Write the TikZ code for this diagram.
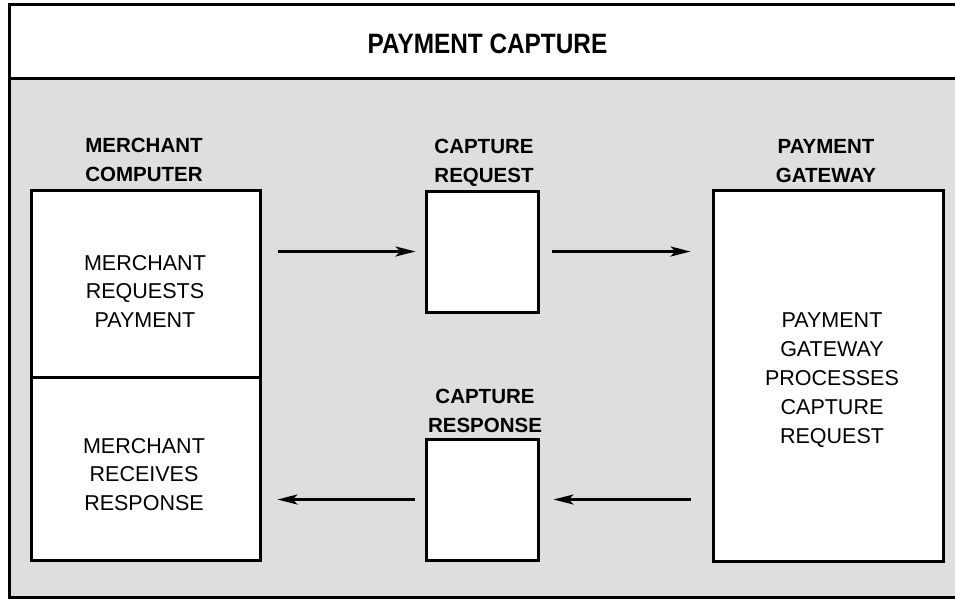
\documentclass[tikz,border=0pt]{standalone}
\usepackage{fontspec}
\setmainfont{Liberation Sans}
\usetikzlibrary{arrows.meta}
\tikzset{
  box/.style={draw=black, line width=3pt, fill=white, inner sep=0pt},
  arr/.style={line width=2.6pt, -{Stealth[length=20pt,width=10pt,inset=5pt]}},
  lbl/.style={font=\fontsize{20.5}{29}\selectfont\bfseries, align=center, anchor=base, inner sep=0pt},
  txt/.style={font=\fontsize{21.5}{28.5}\selectfont, align=center, anchor=base, inner sep=0pt},
}
\begin{document}
\begin{tikzpicture}[x=1pt, y=-1pt]
\useasboundingbox (0,0) rectangle (955,598);
% frame
\fill[black!13] (9,78) rectangle (970,597);
\fill[white] (9,4) rectangle (970,78);
\draw[line width=3pt] (9,4) rectangle (970,597);
\draw[line width=3pt] (9,78) -- (970,78);
\node[anchor=base, inner sep=0pt, font=\fontsize{28}{30}\selectfont\bfseries] (title) at (487.5,53) {\scalebox{0.87}[1]{PAYMENT CAPTURE}};
% boxes
\node[box, minimum width=229pt, minimum height=187pt] (mreq) at (145.5,283.5) {};
\node[box, minimum width=229pt, minimum height=183pt] (mrec) at (145.5,468.5) {};
\node[box, minimum width=112pt, minimum height=121pt] (creq) at (482,251.5) {};
\node[box, minimum width=112pt, minimum height=121pt] (cresp) at (482,499.5) {};
\node[box, minimum width=230pt, minimum height=371pt] (gw) at (828,375.5) {};
% labels (anchor = baseline of last line)
\node[lbl] (lmc) at (144,181) {MERCHANT\\COMPUTER};
\node[lbl] (lcr) at (484,182) {CAPTURE\\REQUEST};
\node[lbl] (lpg) at (826,182) {PAYMENT\\GATEWAY};
\node[lbl] (lcs) at (485,432) {CAPTURE\\RESPONSE};
% inner texts
\node[txt] (tmreq) at (145,327) {MERCHANT\\REQUESTS\\PAYMENT};
\node[txt] (tmrec) at (144,510) {MERCHANT\\RECEIVES\\RESPONSE};
\node[txt, font=\fontsize{21.5}{29}\selectfont] (tgw) at (832,443) {PAYMENT\\GATEWAY\\PROCESSES\\CAPTURE\\REQUEST};
% arrows
\draw[arr, shorten <=16pt, shorten >=9pt] (mreq.east |- creq.west) -- (creq.west);
\draw[arr, shorten <=12pt, shorten >=21pt] (creq.east) -- (gw.west |- creq.east);
\draw[arr, shorten <=21pt, shorten >=14pt] (gw.west |- cresp.east) -- (cresp.east);
\draw[arr, shorten <=10pt, shorten >=16pt] (cresp.west) -- (mrec.east |- cresp.west);
\end{tikzpicture}
\end{document}
